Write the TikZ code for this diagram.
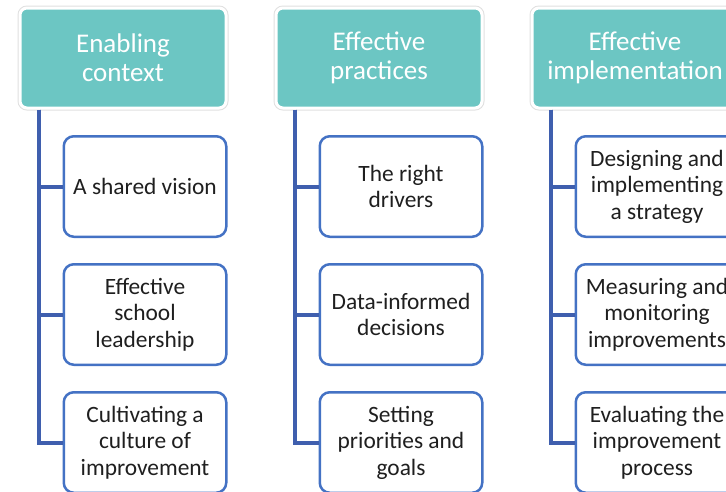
\documentclass[tikz,border=0pt]{standalone}
\usepackage{fontspec}
\setmainfont{Carlito}
\usetikzlibrary{positioning}

\definecolor{cabecalho}{HTML}{6CC6C3}
\definecolor{caixaazul}{HTML}{4472C4}
\definecolor{tronco}{HTML}{3F5FAE}

\tikzset{
  titulo/.style={rectangle, rounded corners=7pt, fill=cabecalho, draw=white, line width=3pt,
    preaction={draw=black!12, line width=5pt}, minimum width=206pt, minimum height=100pt,
    align=center, text=white, font=\fontsize{27}{29}\selectfont},
  item/.style={rectangle, rounded corners=10pt, fill=white, draw=caixaazul, line width=2.5pt,
    minimum width=162.5pt, minimum height=100.5pt, inner sep=1pt, align=center,
    text=black!88, font=\fontsize{23.4}{26.5}\selectfont},
  ramo/.style={draw=tronco, line width=4pt}
}

\begin{document}
\begin{tikzpicture}[x=1pt, y=-1pt, node distance=25pt]

    \useasboundingbox (0,0) rectangle (726,491);

    % cabeçalhos
    \node[titulo] (h1) at (123,58) {Enabling\\context};
    \node[titulo] (h2) at (379,58) {Effective\\practices};
    \node[titulo] (h3) at (635,58) {Effective\\implementation};

    % primeira coluna
    \node[item, anchor=north east] (c11) at ([yshift=-25.5pt]h1.south east) {A shared vision};
    \node[item, below=of c11] (c12) {Effective\\school\\leadership};
    \node[item, below=of c12] (c13) {Cultivating a\\culture of\\improvement};

    % segunda coluna
    \node[item, anchor=north east] (c21) at ([yshift=-25.5pt]h2.south east) {The right\\drivers};
    \node[item, below=of c21] (c22) {Data-informed\\decisions};
    \node[item, below=of c22] (c23) {Setting\\priorities and\\goals};

    % terceira coluna
    \node[item, anchor=north east] (c31) at ([yshift=-25.5pt]h3.south east) {Designing and\\implementing\\a strategy};
    \node[item, below=of c31] (c32) {Measuring and\\monitoring\\improvements};
    \node[item, below=of c32] (c33) {Evaluating the\\improvement\\process};

    % ligações
    \draw[ramo] ([xshift=20pt]h1.south west) |- (c11.west);
    \draw[ramo] ([xshift=20pt]h1.south west) |- (c12.west);
    \draw[ramo] ([xshift=20pt]h1.south west) |- (c13.west);
    \draw[ramo] ([xshift=20pt]h2.south west) |- (c21.west);
    \draw[ramo] ([xshift=20pt]h2.south west) |- (c22.west);
    \draw[ramo] ([xshift=20pt]h2.south west) |- (c23.west);
    \draw[ramo] ([xshift=20pt]h3.south west) |- (c31.west);
    \draw[ramo] ([xshift=20pt]h3.south west) |- (c32.west);
    \draw[ramo] ([xshift=20pt]h3.south west) |- (c33.west);

\end{tikzpicture}
\end{document}
